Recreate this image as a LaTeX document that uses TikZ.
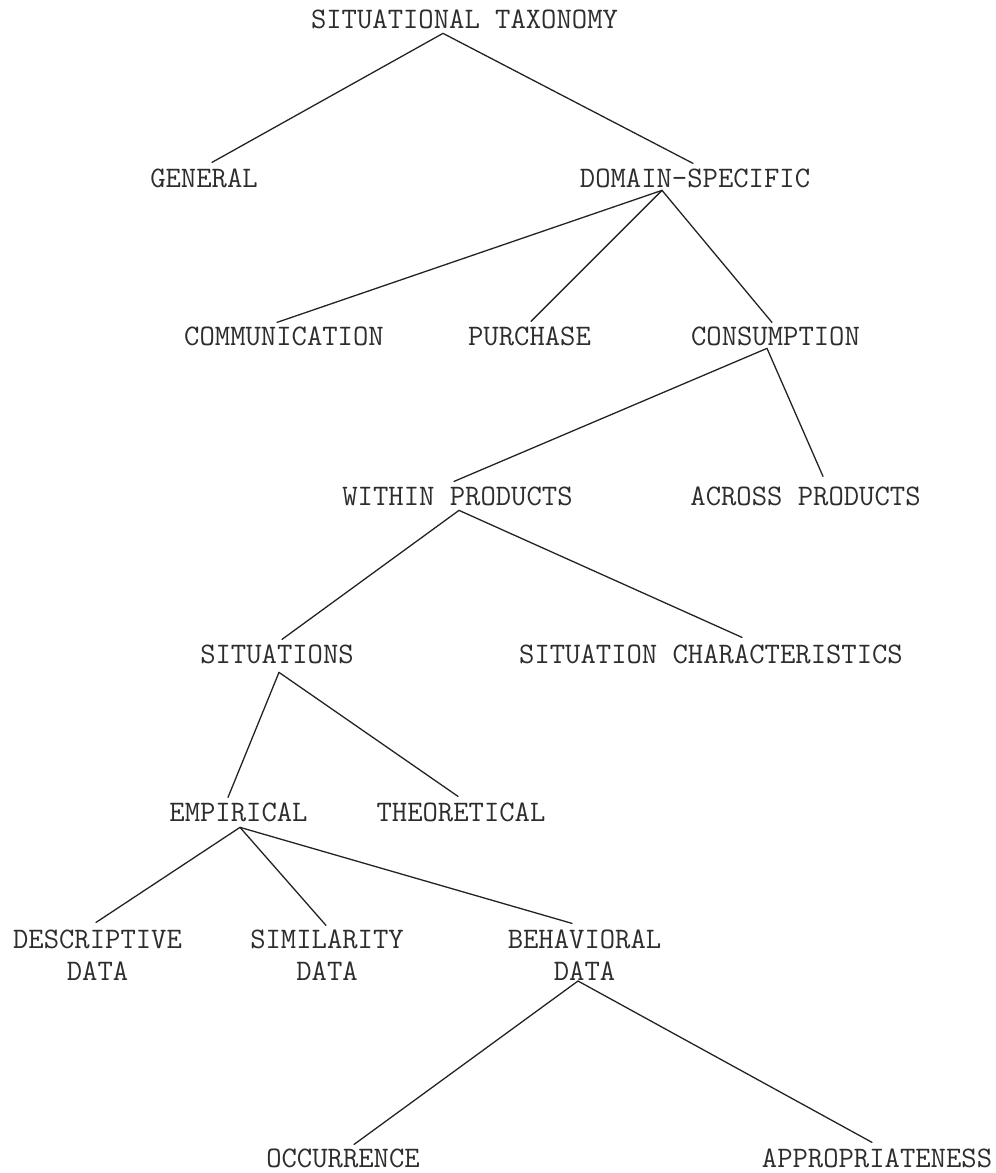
\documentclass[tikz,border=0pt]{standalone}
\usepackage{fontspec}
\definecolor{txtc}{RGB}{45,45,45}
\definecolor{linec}{RGB}{35,35,35}
\tikzset{
  lbl/.style={anchor=base, inner sep=0pt, outer sep=0pt, text=txtc,
    font=\fontsize{29.8}{32}\selectfont\ttfamily, align=center},
  conn/.style={draw=linec, line width=1.3pt, line cap=round}
}
\begin{document}
\begin{tikzpicture}[x=1pt,y=-1pt]
\useasboundingbox (0,0) rectangle (996,1173);
% nodes (x = text centre, y = baseline of first line)
\node[lbl] (tax) at (464.5,28) {SITUATIONAL TAXONOMY};
\node[lbl] (gen) at (204,187) {GENERAL};
\node[lbl] (dom) at (695,187) {DOMAIN-SPECIFIC};
\node[lbl] (com) at (284,345) {COMMUNICATION};
\node[lbl] (pur) at (529.5,345) {PURCHASE};
\node[lbl] (con) at (775.5,345) {CONSUMPTION};
\node[lbl] (wit) at (457.5,505) {WITHIN PRODUCTS};
\node[lbl] (acr) at (805.5,505) {ACROSS PRODUCTS};
\node[lbl] (sit) at (277,663) {SITUATIONS};
\node[lbl] (sch) at (711,663) {SITUATION CHARACTERISTICS};
\node[lbl] (emp) at (238.5,821) {EMPIRICAL};
\node[lbl] (the) at (461,821) {THEORETICAL};
\node[lbl] (des) at (97.5,980) {DESCRIPTIVE\\DATA};
\node[lbl] (sim) at (327,980) {SIMILARITY\\DATA};
\node[lbl] (beh) at (584.5,980) {BEHAVIORAL\\DATA};
\node[lbl] (occ) at (343,1167) {OCCURRENCE};
\node[lbl] (app) at (877,1167) {APPROPRIATENESS};
% connectors
\draw[conn] ([xshift=-21.5pt,yshift=-5pt]tax.south) -- ([xshift=8pt,yshift=6pt]gen.north);
\draw[conn] ([xshift=-21.5pt,yshift=-5pt]tax.south) -- ([xshift=-2pt,yshift=5pt]dom.north);
\draw[conn] ([xshift=-33pt,yshift=-3pt]dom.south) -- ([xshift=-7pt,yshift=4pt]com.north);
\draw[conn] ([xshift=-33pt,yshift=-3pt]dom.south) -- ([xshift=1.5pt,yshift=5pt]pur.north);
\draw[conn] ([xshift=-33pt,yshift=-3pt]dom.south) -- ([xshift=-3.5pt,yshift=4pt]con.north);
\draw[conn] ([xshift=-8.5pt,yshift=-3pt]con.south) -- ([xshift=-3.5pt,yshift=5pt]wit.north);
\draw[conn] ([xshift=-8.5pt,yshift=-3pt]con.south) -- ([xshift=17.5pt,yshift=10pt]acr.north);
\draw[conn] ([xshift=1.5pt,yshift=-5pt]wit.south) -- ([xshift=5pt,yshift=5pt]sit.north);
\draw[conn] ([xshift=1.5pt,yshift=-5pt]wit.south) -- ([xshift=31pt,yshift=7pt]sch.north);
\draw[conn] ([xshift=2pt,yshift=-9pt]sit.south) -- ([xshift=-10.5pt,yshift=5pt]emp.north);
\draw[conn] ([xshift=2pt,yshift=-9pt]sit.south) -- ([xshift=-3pt,yshift=6pt]the.north);
\draw[conn] ([xshift=1.5pt,yshift=-6pt]emp.south) -- ([xshift=-1.5pt,yshift=7pt]des.north);
\draw[conn] ([xshift=1.5pt,yshift=-6pt]emp.south) -- ([xshift=-1pt,yshift=4pt]sim.north);
\draw[conn] ([xshift=1.5pt,yshift=-6pt]emp.south) -- ([xshift=-12.5pt,yshift=6pt]beh.north);
\draw[conn] ([xshift=-6.5pt,yshift=-1pt]beh.south) -- ([xshift=11pt,yshift=4pt]occ.north);
\draw[conn] ([xshift=-6.5pt,yshift=-1pt]beh.south) -- ([xshift=-5pt,yshift=6pt]app.north);
\end{tikzpicture}
\end{document}
